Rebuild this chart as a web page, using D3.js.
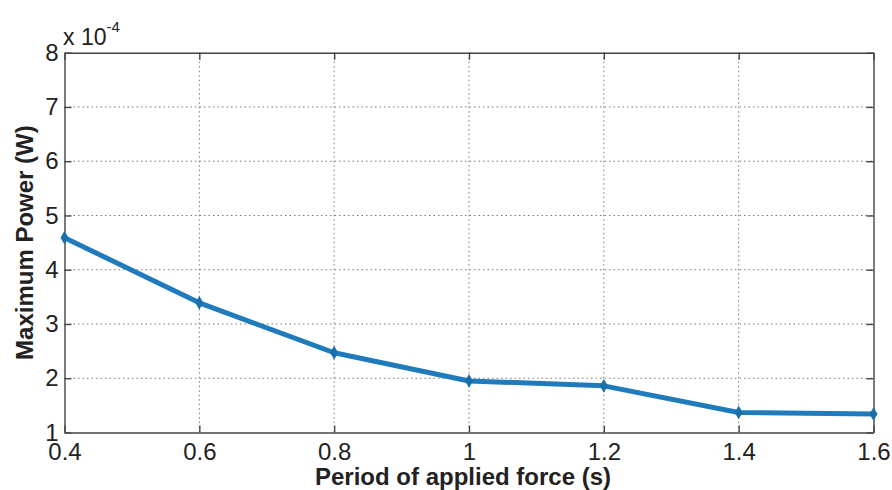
<!DOCTYPE html>
<html>
<head>
<meta charset="utf-8">
<script src="https://cdn.jsdelivr.net/npm/d3@7/dist/d3.min.js"></script>
<style>
body { margin: 0; background: #fff; }
svg { display: block; }
text { font-family: "Liberation Sans", Arial, sans-serif; fill: #222; }
</style>
</head>
<body>
<svg id="chart" width="892" height="490"></svg>
<script>
// Data (values in units of 1e-4 W)
const periods = [0.4, 0.6, 0.8, 1.0, 1.2, 1.4, 1.6];
const powerE4 = [4.59, 3.39, 2.47, 1.95, 1.86, 1.37, 1.34];
const xTicks = [0.4, 0.6, 0.8, 1.0, 1.2, 1.4, 1.6];
const xTickLabels = ["0.4", "0.6", "0.8", "1", "1.2", "1.4", "1.6"];
const yTicks = [1, 2, 3, 4, 5, 6, 7, 8];

const svg = d3.select("#chart");
const m = { left: 64.5, right: 873.5, top: 52.7, bottom: 432.5 };

const x = d3.scaleLinear().domain([0.4, 1.6]).range([m.left, m.right]);
const y = d3.scaleLinear().domain([1, 8]).range([m.bottom, m.top]);

// Grid
const grid = svg.append("g");
grid.selectAll("line.gx").data(xTicks.slice(1, -1)).enter().append("line")
  .attr("x1", d => x(d)).attr("x2", d => x(d))
  .attr("y1", m.top).attr("y2", m.bottom)
  .attr("stroke", "#7a7a7a").attr("stroke-width", 1).attr("stroke-dasharray", "1.5,3");
grid.selectAll("line.gy").data(yTicks.slice(1, -1)).enter().append("line")
  .attr("y1", d => y(d)).attr("y2", d => y(d))
  .attr("x1", m.left).attr("x2", m.right)
  .attr("stroke", "#7a7a7a").attr("stroke-width", 1).attr("stroke-dasharray", "1.5,3");

// Axes (box with inward ticks)
const tickLen = 7;
const axisColor = "#444";
const axB = svg.append("g").attr("transform", `translate(0,${m.bottom})`)
  .call(d3.axisBottom(x).tickValues(xTicks).tickSizeInner(-tickLen).tickSizeOuter(0)
    .tickFormat((d, i) => xTickLabels[i]).tickPadding(10));
const axT = svg.append("g").attr("transform", `translate(0,${m.top})`)
  .call(d3.axisTop(x).tickValues(xTicks).tickSizeInner(-tickLen).tickSizeOuter(0).tickFormat(""));
const axL = svg.append("g").attr("transform", `translate(${m.left},0)`)
  .call(d3.axisLeft(y).tickValues(yTicks).tickSizeInner(-tickLen).tickSizeOuter(0)
    .tickFormat(d3.format("d")).tickPadding(6));
const axR = svg.append("g").attr("transform", `translate(${m.right},0)`)
  .call(d3.axisRight(y).tickValues(yTicks).tickSizeInner(-tickLen).tickSizeOuter(0).tickFormat(""));

[axB, axT, axL, axR].forEach(a => {
  a.select(".domain").attr("stroke", axisColor).attr("stroke-width", 1.4);
  a.selectAll(".tick line").attr("stroke", axisColor).attr("stroke-width", 1.4);
  a.selectAll("text").style("font-family", "'Liberation Sans', Arial, sans-serif")
    .style("font-size", "24px").attr("fill", "#222");
});

// Line
const line = d3.line().x((d, i) => x(periods[i])).y(d => y(d));
svg.append("path").datum(powerE4)
  .attr("d", line).attr("fill", "none")
  .attr("stroke", "#1f7bbb").attr("stroke-width", 5).attr("stroke-linejoin", "round");

// Markers
const sym = d3.symbol().type(d3.symbolDiamond).size(55);
svg.selectAll("path.mk").data(powerE4).enter().append("path")
  .attr("class", "mk")
  .attr("transform", (d, i) => `translate(${x(periods[i])},${y(d)})`)
  .attr("d", sym).attr("fill", "#1a70aa");

// Exponent label
const ex = svg.append("text").attr("x", 63).attr("y", 45)
  .style("font-size", "23px");
ex.append("tspan").text("x 10");
ex.append("tspan").attr("dy", -13).style("font-size", "15px").text("-4");

// Axis labels
svg.append("text").attr("x", 463).attr("y", 485)
  .attr("text-anchor", "middle").style("font-size", "24px").style("font-weight", "bold")
  .text("Period of applied force (s)");
svg.append("text")
  .attr("transform", `translate(33,${(m.top + m.bottom) / 2}) rotate(-90)`)
  .attr("text-anchor", "middle").style("font-size", "24px").style("font-weight", "bold")
  .text("Maximum Power (W)");
</script>
</body>
</html>
